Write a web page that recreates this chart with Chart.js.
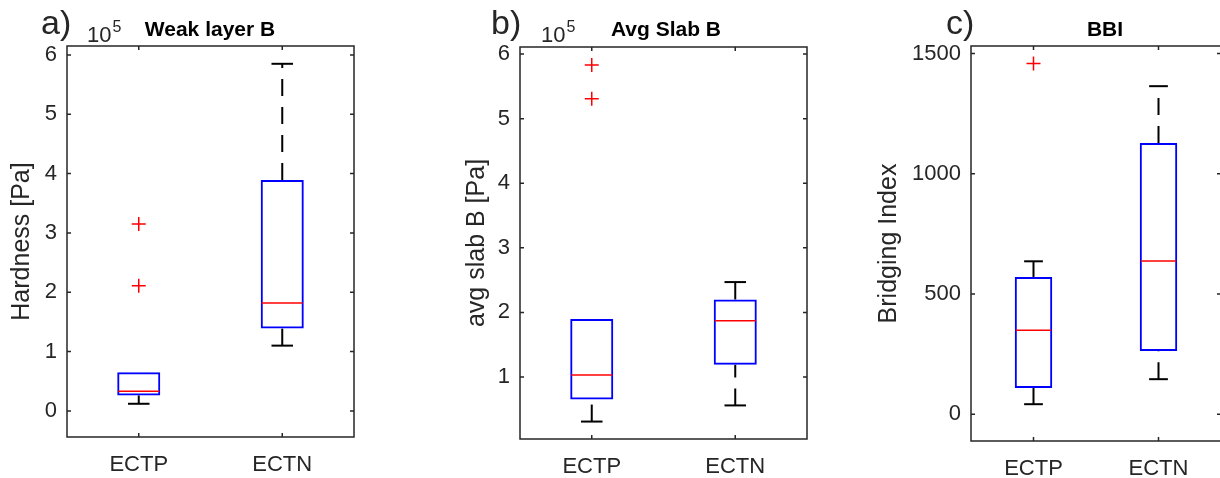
<!DOCTYPE html>
<html lang="en">
<head>
<meta charset="UTF-8">
<title>boxplots</title>
<script src="https://cdn.jsdelivr.net/npm/chart.js"></script>
<style>
  body { margin: 0; background: #fff; width: 1220px; height: 478px; overflow: hidden; position: relative; }
  canvas { position: absolute; top: 0; }
</style>
</head>
<body>
<canvas id="pa" width="410" height="478" style="left:0px"></canvas>
<canvas id="pb" width="420" height="478" style="left:410px"></canvas>
<canvas id="pc" width="400" height="478" style="left:830px"></canvas>
<script>
const groups = ['ECTP', 'ECTN'];

// a) weak layer B hardness, units of 10^5 Pa
const weakLow = [0.12, 1.10];
const weakQ1 = [0.26, 1.39];
const weakMed = [0.33, 1.82];
const weakQ3 = [0.65, 3.89];
const weakHigh = [0.65, 5.85];
const weakOut = [[3.15, 2.11], []];
const weakTicks = [0, 1, 2, 3, 4, 5, 6];

// b) avg slab B, units of 10^5 Pa
const slabLow = [0.31, 0.56];
const slabQ1 = [0.65, 1.19];
const slabMed = [1.03, 1.87];
const slabQ3 = [1.90, 2.20];
const slabHigh = [1.90, 2.47];
const slabOut = [[5.83, 5.31], []];
const slabTicks = [1, 2, 3, 4, 5, 6];

// c) bridging index
const bbiLow = [42, 146];
const bbiQ1 = [109, 263];
const bbiMed = [349, 637];
const bbiQ3 = [571, 1128];
const bbiHigh = [636, 1364];
const bbiOut = [[1458], []];
const bbiTicks = [0, 500, 1000, 1500];

const AX = '#262626';
const FONT = "'Liberation Sans', Arial, sans-serif";
Chart.defaults.font.family = FONT;
Chart.defaults.color = AX;

function boxPanel(id, p) {
  const el = document.getElementById(id);
  const W = el.width, H = el.height;
  const outPts = [];
  p.out.forEach((list, i) => list.forEach(v => outPts.push({ x: groups[i], y: v })));

  const extras = {
    id: 'boxExtras',
    beforeDatasetsDraw(chart) {
      // whiskers + caps (skipped where they sit on the box edge)
      const ctx = chart.ctx, x = chart.scales.x, y = chart.scales.y;
      const half = x.width / groups.length * 0.3 / 2;
      ctx.save();
      ctx.strokeStyle = '#000';
      ctx.lineWidth = 2;
      groups.forEach((g, i) => {
        const cx = x.getPixelForValue(i);
        [[p.low[i], p.q1[i]], [p.q3[i], p.high[i]]].forEach(([a, b]) => {
          if (b <= a) return;
          ctx.setLineDash([17, 11]);
          ctx.beginPath();
          ctx.moveTo(cx, y.getPixelForValue(a));
          ctx.lineTo(cx, y.getPixelForValue(b));
          ctx.stroke();
          ctx.setLineDash([]);
          const v = a === p.low[i] ? a : b;
          const py = y.getPixelForValue(v);
          ctx.beginPath();
          ctx.moveTo(cx - half / 2, py);
          ctx.lineTo(cx + half / 2, py);
          ctx.stroke();
        });
      });
      ctx.restore();
    },
    afterDatasetsDraw(chart) {
      const ctx = chart.ctx, x = chart.scales.x, y = chart.scales.y;
      const half = x.width / groups.length * 0.3 / 2;
      ctx.save();
      ctx.strokeStyle = '#ff0000';
      ctx.lineWidth = 1.5;
      groups.forEach((g, i) => {
        const cx = x.getPixelForValue(i);
        const py = y.getPixelForValue(p.med[i]);
        ctx.beginPath();
        ctx.moveTo(cx - half + 1, py);
        ctx.lineTo(cx + half - 1, py);
        ctx.stroke();
      });
      ctx.restore();
    },
    afterDraw(chart) {
      const ctx = chart.ctx, a = chart.chartArea, x = chart.scales.x, y = chart.scales.y;
      const tl = 4;
      ctx.save();
      ctx.strokeStyle = AX;
      ctx.lineWidth = 1.5;
      ctx.strokeRect(a.left, a.top, a.right - a.left, a.bottom - a.top);
      ctx.beginPath();
      p.ticks.forEach(v => {
        const py = y.getPixelForValue(v);
        ctx.moveTo(a.left, py); ctx.lineTo(a.left + tl, py);
        ctx.moveTo(a.right, py); ctx.lineTo(a.right - tl, py);
      });
      groups.forEach((g, i) => {
        const px = x.getPixelForValue(i);
        ctx.moveTo(px, a.bottom); ctx.lineTo(px, a.bottom - tl);
        ctx.moveTo(px, a.top); ctx.lineTo(px, a.top + tl);
      });
      ctx.stroke();

      // panel letter, exponent, title
      ctx.fillStyle = AX;
      ctx.textBaseline = 'alphabetic';
      ctx.textAlign = 'left';
      ctx.font = '34px ' + FONT;
      ctx.fillText(p.tag, p.tagX, 34);
      if (p.expX) {
        ctx.font = '22px ' + FONT;
        ctx.fillText('10', p.expX, 42);
        const w = ctx.measureText('10').width;
        ctx.font = '16px ' + FONT;
        ctx.fillText('5', p.expX + w + 1, 32);
      }
      ctx.fillStyle = '#000';
      ctx.textAlign = 'center';
      ctx.font = 'bold 21px ' + FONT;
      ctx.fillText(p.title, p.titleX, 36);
      ctx.restore();
    }
  };

  return new Chart(el, {
    type: 'bar',
    data: {
      labels: groups,
      datasets: [{
        type: 'bar',
        data: groups.map((g, i) => [p.q1[i], p.q3[i]]),
        backgroundColor: 'rgba(0,0,0,0)',
        borderColor: '#0000ff',
        borderWidth: 2,
        borderSkipped: false,
        barPercentage: 0.3,
        categoryPercentage: 1
      }, {
        type: 'line',
        data: outPts,
        showLine: false,
        pointStyle: 'cross',
        pointRadius: 7,
        pointBorderColor: '#ff0000',
        pointBorderWidth: 1.5
      }]
    },
    options: {
      responsive: false,
      animation: false,
      events: [],
      layout: { padding: { left: 0, top: p.top, right: W - p.right, bottom: 0 } },
      plugins: { legend: { display: false }, tooltip: { enabled: false }, title: { display: false } },
      scales: {
        x: {
          type: 'category',
          offset: true,
          grid: { display: false, drawTicks: false },
          border: { display: false },
          ticks: { font: { size: 22 }, padding: 15, color: AX },
          afterFit: s => { s.height = H - p.bottom; }
        },
        y: {
          type: 'linear',
          min: p.min,
          max: p.max,
          grid: { display: false, drawTicks: false },
          border: { display: false },
          ticks: { font: { size: 22 }, padding: 10, color: AX, callback: v => String(v) },
          afterBuildTicks: s => { s.ticks = p.ticks.map(v => ({ value: v })); },
          title: {
            display: true,
            text: p.yTitle,
            color: AX,
            font: { size: 25, lineHeight: 1.2 },
            padding: { top: p.yTitleX - 15, bottom: 0 }
          },
          afterFit: s => { s.width = p.left; }
        }
      }
    },
    plugins: [extras]
  });
}

boxPanel('pa', {
  low: weakLow, q1: weakQ1, med: weakMed, q3: weakQ3, high: weakHigh, out: weakOut,
  ticks: weakTicks, min: -0.44, max: 6.15,
  yTitle: 'Hardness [Pa]', title: 'Weak layer B', tag: 'a)',
  left: 67, right: 354, top: 46, bottom: 437, yTitleX: 22,
  tagX: 41, expX: 87, titleX: 210
});

boxPanel('pb', {
  low: slabLow, q1: slabQ1, med: slabMed, q3: slabQ3, high: slabHigh, out: slabOut,
  ticks: slabTicks, min: 0.04, max: 6.11,
  yTitle: 'avg slab B [Pa]', title: 'Avg Slab B', tag: 'b)',
  left: 110, right: 397, top: 47, bottom: 439, yTitleX: 67,
  tagX: 81, expX: 131, titleX: 256
});

boxPanel('pc', {
  low: bbiLow, q1: bbiQ1, med: bbiMed, q3: bbiQ3, high: bbiHigh, out: bbiOut,
  ticks: bbiTicks, min: -111, max: 1531,
  yTitle: 'Bridging Index', title: 'BBI', tag: 'c)',
  left: 141, right: 391, top: 46, bottom: 441, yTitleX: 59,
  tagX: 116, expX: 0, titleX: 275
});
</script>
</body>
</html>
